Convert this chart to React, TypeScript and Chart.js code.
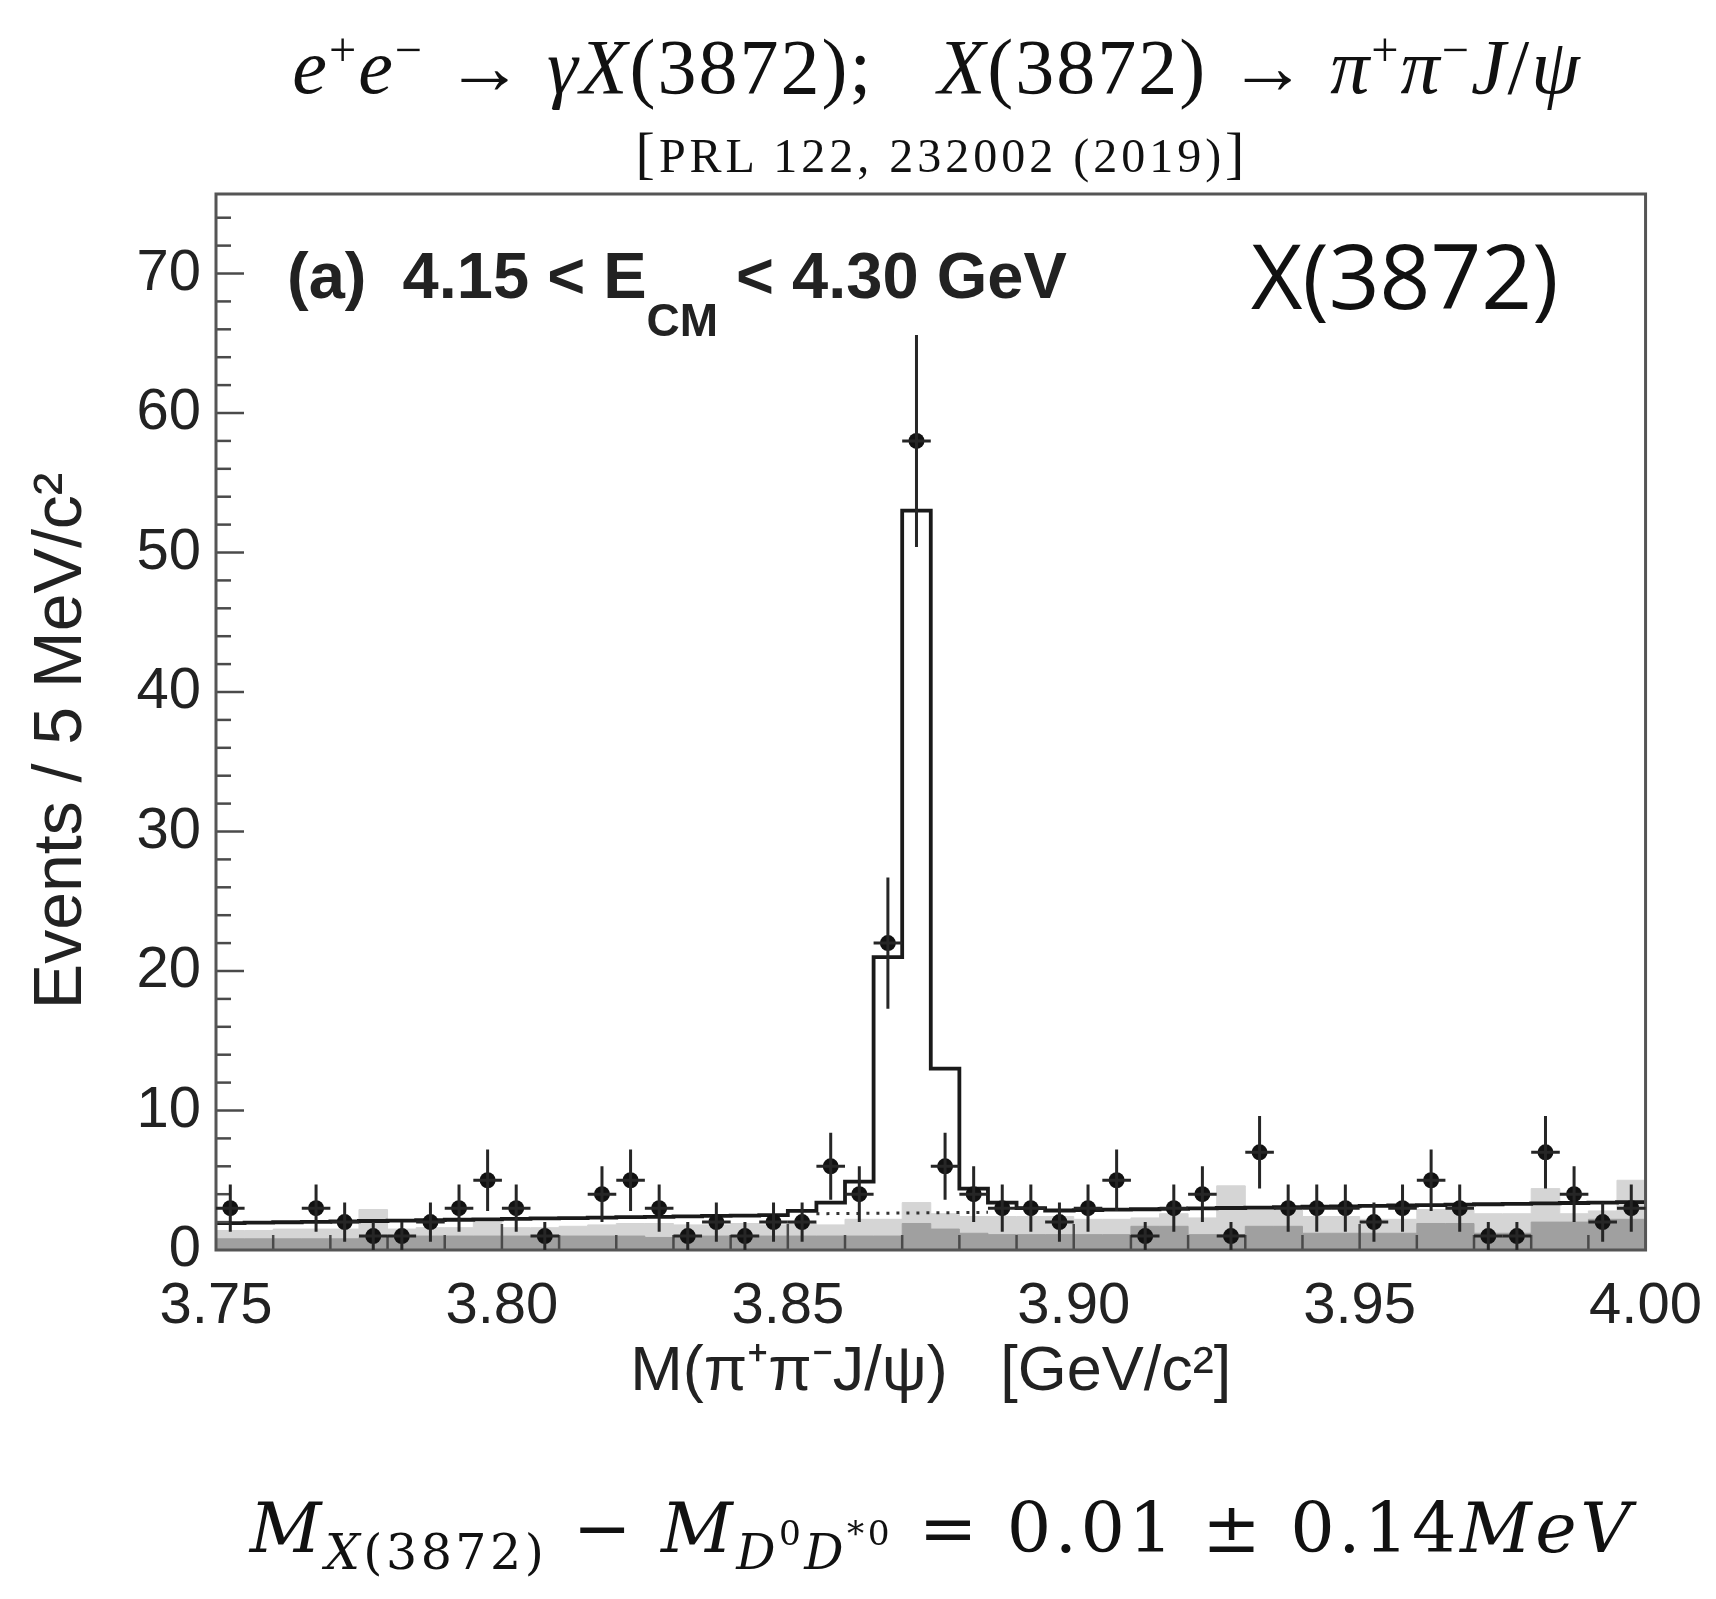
import React, { useEffect, useRef } from 'react';
import { Chart, registerables } from 'chart.js';

Chart.register(...registerables);

// ---- axis ranges / tick labels ----
const X_MIN = 3.75;
const X_MAX = 4.0;
const Y_MIN = 0;
const Y_MAX = 75.7;
const BIN_WIDTH = 0.005;
const xTickValues = [3.75, 3.8, 3.85, 3.9, 3.95, 4.0];
const yTickValues = [0, 10, 20, 30, 40, 50, 60, 70];

// ---- bins (centres, GeV/c^2) ----
const binCenters = [
  3.7525, 3.7575, 3.7625, 3.7675, 3.7725, 3.7775, 3.7825, 3.7875, 3.7925, 3.7975,
  3.8025, 3.8075, 3.8125, 3.8175, 3.8225, 3.8275, 3.8325, 3.8375, 3.8425, 3.8475,
  3.8525, 3.8575, 3.8625, 3.8675, 3.8725, 3.8775, 3.8825, 3.8875, 3.8925, 3.8975,
  3.9025, 3.9075, 3.9125, 3.9175, 3.9225, 3.9275, 3.9325, 3.9375, 3.9425, 3.9475,
  3.9525, 3.9575, 3.9625, 3.9675, 3.9725, 3.9775, 3.9825, 3.9875, 3.9925, 3.9975,
];

// ---- data: events per bin and their errors ----
const events = [
  3, 0, 0, 3, 2, 1, 1, 2, 3, 5,
  3, 1, 0, 4, 5, 3, 1, 2, 1, 2,
  2, 6, 4, 22, 58, 6, 4, 3, 3, 2,
  3, 5, 1, 3, 4, 1, 7, 3, 3, 3,
  2, 3, 5, 3, 1, 1, 7, 4, 2, 3,
];
const eventErrors = [
  1.7, 0, 0, 1.7, 1.4, 1.0, 1.0, 1.4, 1.7, 2.2,
  1.7, 1.0, 0, 2.0, 2.2, 1.7, 1.0, 1.4, 1.0, 1.4,
  1.4, 2.4, 2.0, 4.7, 7.6, 2.4, 2.0, 1.7, 1.7, 1.4,
  1.7, 2.2, 1.0, 1.7, 2.0, 1.0, 2.6, 1.7, 1.7, 1.7,
  1.4, 1.7, 2.2, 1.7, 1.0, 1.0, 2.6, 2.0, 1.4, 1.7,
];

// ---- total fit (signal + background), per bin ----
const fitTotal = [
  1.93, 1.96, 1.99, 2.02, 2.05, 2.08, 2.11, 2.14, 2.17, 2.2,
  2.23, 2.26, 2.29, 2.32, 2.35, 2.38, 2.41, 2.44, 2.47, 2.5,
  2.8, 3.4, 4.9, 21, 53, 13, 4.4, 3.4, 3.0, 2.83,
  2.86, 2.89, 2.92, 2.95, 2.98, 3.01, 3.04, 3.07, 3.1, 3.13,
  3.16, 3.19, 3.22, 3.25, 3.28, 3.31, 3.34, 3.37, 3.4, 3.43,
];

// ---- background under the peak (dotted) ----
const bgDottedX = [3.855, 3.885];
const bgDottedY = [2.6, 2.7];

// ---- shaded background estimates ----
const lightHist = [
  1.4, 1.4, 1.5, 1.5, 1.5, 2.9, 1.5, 1.6, 1.6, 2.0,
  1.6, 1.6, 1.7, 1.8, 1.9, 1.9, 1.8, 1.8, 1.9, 1.8,
  1.9, 1.8, 2.2, 2.2, 3.4, 2.6, 2.4, 2.4, 2.4, 2.4,
  2.2, 2.2, 2.3, 2.6, 2.3, 4.6, 3.0, 3.0, 2.4, 2.4,
  2.2, 2.2, 2.9, 2.9, 2.6, 2.6, 4.4, 2.6, 2.8, 5.0,
];
const darkHist = [
  0.8, 0.8, 0.8, 0.8, 0.8, 0.9, 0.9, 1.0, 1.0, 1.0,
  1.0, 1.0, 1.0, 1.0, 1.0, 0.9, 0.9, 1.0, 1.0, 1.0,
  1.0, 1.0, 1.0, 1.0, 1.9, 1.5, 1.2, 1.1, 1.1, 1.1,
  1.1, 1.1, 1.7, 1.7, 1.1, 1.1, 1.7, 1.7, 1.2, 1.2,
  1.2, 1.2, 1.9, 1.9, 1.2, 1.2, 2.0, 2.0, 2.2, 2.2,
];

const FONT = "'Liberation Sans', Arial, Helvetica, sans-serif";
const INK = '#222222';

const stepPoints = (vals: number[]) => {
  const pts = vals.map((v, i) => ({ x: binCenters[i] - BIN_WIDTH / 2, y: v }));
  pts.push({ x: binCenters[vals.length - 1] + BIN_WIDTH / 2, y: vals[vals.length - 1] });
  return pts;
};

const dataPoints = binCenters
  .map((c, i) => ({ x: c, y: events[i], err: eventErrors[i] }))
  .filter((p) => p.y > 0);

const framePlugin = {
  id: 'rootFrame',
  afterDatasetsDraw(chart: any) {
    const { ctx, chartArea: a, scales } = chart;
    const xs = scales.x;
    const ys = scales.y;
    ctx.save();
    ctx.strokeStyle = '#4a4a4a';
    ctx.lineWidth = 2.5;
    // y ticks (major every 10, minor every 2)
    for (let v = 2; v < Y_MAX; v += 2) {
      const y = ys.getPixelForValue(v);
      const len = v % 10 === 0 ? 28 : 15;
      ctx.beginPath();
      ctx.moveTo(a.left, y);
      ctx.lineTo(a.left + len, y);
      ctx.stroke();
    }
    // x ticks (major every 0.05, minor every 0.01)
    for (let k = 1; k < 25; k++) {
      const v = X_MIN + k * 0.01;
      const x = xs.getPixelForValue(v);
      const len = k % 5 === 0 ? 26 : 15;
      ctx.beginPath();
      ctx.moveTo(x, a.bottom);
      ctx.lineTo(x, a.bottom - len);
      ctx.stroke();
    }
    ctx.lineWidth = 3;
    ctx.strokeStyle = '#555555';
    ctx.strokeRect(a.left, a.top, a.right - a.left, a.bottom - a.top);

    // error bars of the data points
    ctx.strokeStyle = '#262626';
    ctx.lineWidth = 3;
    dataPoints.forEach((p) => {
      const x = xs.getPixelForValue(p.x);
      const y = ys.getPixelForValue(p.y);
      const yl = ys.getPixelForValue(Math.max(0, p.y - p.err));
      const yh = ys.getPixelForValue(p.y + p.err);
      const xl = xs.getPixelForValue(p.x - BIN_WIDTH / 2);
      const xr = xs.getPixelForValue(p.x + BIN_WIDTH / 2);
      ctx.beginPath();
      ctx.moveTo(x, yl);
      ctx.lineTo(x, yh);
      ctx.moveTo(xl, y);
      ctx.lineTo(xr, y);
      ctx.stroke();
    });
    ctx.restore();
  },
};

function PlotCanvas() {
  const ref = useRef<HTMLCanvasElement | null>(null);
  useEffect(() => {
    if (!ref.current) return;
    const chart = new Chart(ref.current, {
      type: 'scatter',
      data: {
        datasets: [
          {
            type: 'scatter',
            label: 'Data',
            data: dataPoints,
            pointRadius: 8,
            pointHoverRadius: 8,
            pointStyle: 'circle',
            backgroundColor: '#111111',
            borderColor: '#111111',
            borderWidth: 0,
            order: 0,
          } as any,
          {
            type: 'line',
            label: 'Fit',
            data: stepPoints(fitTotal),
            stepped: 'before',
            borderColor: '#1a1a1a',
            borderWidth: 3.8,
            pointRadius: 0,
            fill: false,
            order: 1,
          } as any,
          {
            type: 'line',
            label: 'Background',
            data: bgDottedX.map((x, i) => ({ x, y: bgDottedY[i] })),
            borderColor: '#333333',
            borderWidth: 3,
            borderDash: [3, 7],
            pointRadius: 0,
            fill: false,
            order: 2,
          } as any,
          {
            type: 'line',
            label: 'Bkg A',
            data: stepPoints(darkHist),
            stepped: 'before',
            borderColor: '#a0a0a0',
            backgroundColor: '#a0a0a0',
            borderWidth: 1,
            pointRadius: 0,
            fill: 'origin',
            order: 3,
          } as any,
          {
            type: 'line',
            label: 'Bkg B',
            data: stepPoints(lightHist),
            stepped: 'before',
            borderColor: '#d5d5d5',
            backgroundColor: '#d5d5d5',
            borderWidth: 1,
            pointRadius: 0,
            fill: 'origin',
            order: 4,
          } as any,
        ],
      },
      options: {
        responsive: false,
        animation: false,
        layout: { padding: { left: 0, right: 67, top: 194, bottom: 149 } },
        plugins: {
          legend: { display: false },
          tooltip: { enabled: false },
          title: { display: false },
        },
        scales: {
          x: {
            type: 'linear',
            min: X_MIN,
            max: X_MAX,
            grid: { display: false },
            border: { display: false },
            afterBuildTicks: (s: any) => {
              s.ticks = xTickValues.map((v) => ({ value: v }));
            },
            afterFit: (s: any) => {
              s.height = 200;
            },
            ticks: {
              autoSkip: false,
              maxRotation: 0,
              padding: 14,
              color: INK,
              font: { family: FONT, size: 58 },
              callback: (v: any) => Number(v).toFixed(2),
            },
            title: {
              display: true,
              text: 'M(π⁺π⁻J/ψ)   [GeV/c²]',
              color: INK,
              font: { family: FONT, size: 63, lineHeight: 1 },
              padding: { top: 0, bottom: 46 },
            },
          },
          y: {
            type: 'linear',
            min: Y_MIN,
            max: Y_MAX,
            grid: { display: false },
            border: { display: false },
            afterBuildTicks: (s: any) => {
              s.ticks = yTickValues.map((v) => ({ value: v }));
            },
            afterFit: (s: any) => {
              s.width = 216;
            },
            ticks: {
              autoSkip: false,
              padding: 7,
              color: INK,
              font: { family: FONT, size: 58 },
              callback: (v: any) => String(v),
            },
            title: {
              display: true,
              text: 'Events / 5 MeV/c²  ',
              color: INK,
              font: { family: FONT, size: 68, lineHeight: 1 },
              padding: { top: 28, bottom: 0 },
            },
          },
        },
      } as any,
      plugins: [framePlugin],
    });
    return () => chart.destroy();
  }, []);
  return (
    <canvas
      ref={ref}
      width={1716}
      height={1599}
      style={{ position: 'absolute', left: 0, top: 0, width: 1716, height: 1599 }}
    />
  );
}

const supStyle: React.CSSProperties = {
  fontSize: '0.62em',
  position: 'relative',
  top: '-0.55em',
  lineHeight: 0,
  fontStyle: 'normal',
};

export default function App() {
  return (
    <div
      style={{
        position: 'absolute',
        left: 0,
        top: 0,
        width: 1716,
        height: 1599,
        background: '#ffffff',
        overflow: 'hidden',
      }}
    >
      <PlotCanvas />
      {/* title */}
      <div
        style={{
          position: 'absolute',
          left: 937,
          top: 28,
          transform: 'translateX(-50%)',
          whiteSpace: 'nowrap',
          fontFamily: "'Liberation Serif', 'DejaVu Serif', serif",
          fontSize: 78,
          letterSpacing: 2,
          lineHeight: 1,
          color: '#111',
        }}
      >
        <i>e</i>
        <span style={supStyle}>+</span>
        <i>e</i>
        <span style={supStyle}>−</span> → <i>γX</i>(3872);&nbsp;&nbsp; <i>X</i>(3872) → <i>π</i>
        <span style={supStyle}>+</span>
        <i>π</i>
        <span style={supStyle}>−</span>
        <i>J</i>/<i>ψ</i>
      </div>
      <div
        style={{
          position: 'absolute',
          left: 942,
          top: 124,
          transform: 'translateX(-50%)',
          whiteSpace: 'nowrap',
          fontFamily: "'Liberation Serif', 'DejaVu Serif', serif",
          fontSize: 48,
          letterSpacing: 4,
          lineHeight: 1,
          color: '#111',
        }}
      >
        <span style={{ fontSize: 58 }}>[</span>PRL 122, 232002 (2019)<span style={{ fontSize: 58 }}>]</span>
      </div>
      {/* in-plot labels */}
      <div
        style={{
          position: 'absolute',
          left: 287,
          top: 243,
          whiteSpace: 'nowrap',
          fontFamily: FONT,
          fontWeight: 'bold',
          fontSize: 65,
          lineHeight: 1,
          color: '#222',
        }}
      >
        (a)&nbsp; 4.15 &lt; E
        <span style={{ fontSize: 46, position: 'relative', top: 38, lineHeight: 0 }}>CM</span>
        &nbsp;&lt; 4.30 GeV
      </div>
      <div
        style={{
          position: 'absolute',
          left: 1251,
          top: 230,
          whiteSpace: 'nowrap',
          fontFamily: "'Open Sans', 'Noto Sans', sans-serif",
          fontSize: 89,
          lineHeight: 1,
          color: '#111',
        }}
      >
        X(3872)
      </div>
      {/* formula */}
      <div
        style={{
          position: 'absolute',
          left: 942,
          top: 1493,
          transform: 'translateX(-50%)',
          whiteSpace: 'nowrap',
          fontFamily: "'DejaVu Serif', 'Liberation Serif', serif",
          fontSize: 70,
          letterSpacing: 3.5,
          lineHeight: 1,
          color: '#111',
        }}
      >
        <i>M</i>
        <span style={{ fontSize: '0.7em', position: 'relative', top: '0.35em', lineHeight: 0 }}>
          <i>X</i>(3872)
        </span>{' '}
        − <i>M</i>
        <span style={{ fontSize: '0.7em', position: 'relative', top: '0.35em', lineHeight: 0 }}>
          <i>D</i>
          <span style={{ fontSize: '0.7em', position: 'relative', top: '-0.7em' }}>0</span>
          <i>D</i>
          <span style={{ fontSize: '0.7em', position: 'relative', top: '-0.7em' }}>*0</span>
        </span>{' '}
        = 0.01 ± 0.14<i>MeV</i>
      </div>
    </div>
  );
}
